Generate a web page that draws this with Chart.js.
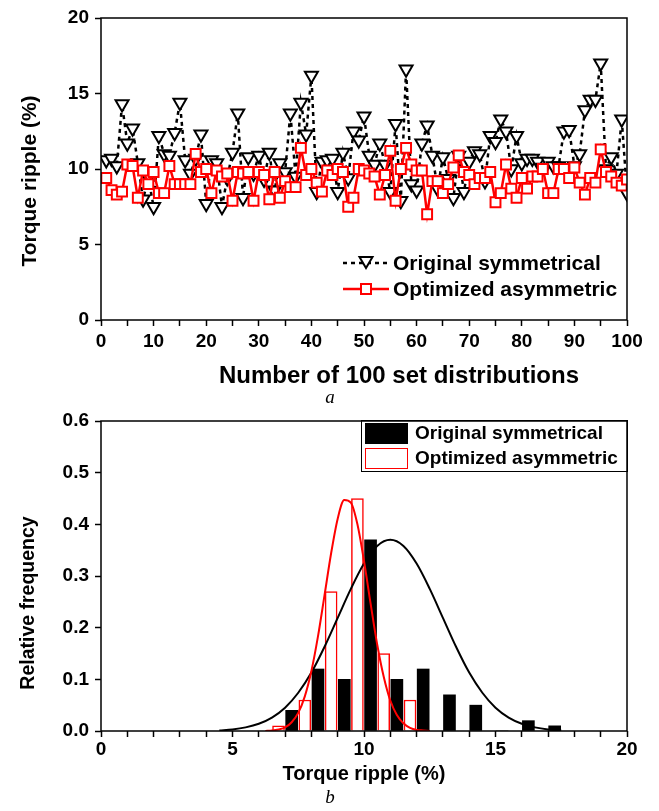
<!DOCTYPE html>
<html>
<head>
<meta charset="utf-8">
<title>Torque ripple</title>
<script src="https://cdn.jsdelivr.net/npm/chart.js@4.4.1/dist/chart.umd.min.js"></script>
<style>
    body { margin: 0; background: #fff; }
    #page { position: relative; width: 659px; height: 811px; overflow: hidden; font-family: 'Liberation Sans', Arial, sans-serif; }
    canvas { position: absolute; left: 0; }
    #c1 { top: 0; }
    #c2 { top: 400px; }
    .cap { position: absolute; width: 40px; text-align: center; font-family: 'Liberation Serif', 'Times New Roman', serif; font-style: italic; font-size: 19px; line-height: 20px; }
    .lg { position: absolute; font-weight: bold; white-space: nowrap; color: #000; }
    .ttl { position: absolute; font-weight: bold; white-space: nowrap; color: #000; line-height: 1; transform: translate(-50%, -50%); }
    .ttl.v { transform: translate(-50%, -50%) rotate(-90deg); }
    .sym { position: absolute; }
    .box { position: absolute; box-sizing: border-box; }
</style>
</head>
<body>
<div id="page">
    <canvas id="c1" width="659" height="400"></canvas>
    <canvas id="c2" width="659" height="411"></canvas>

    <!-- axis titles -->
    <div class="ttl v" style="left:28px;top:181px;font-size:21px">Torque ripple (%)</div>
    <div class="ttl" style="left:399px;top:375px;font-size:24px">Number of 100 set distributions</div>
    <div class="ttl v" style="left:28px;top:603px;font-size:19.5px">Relative frequency</div>
    <div class="ttl" style="left:364px;top:773px;font-size:20px">Torque ripple (%)</div>

    <!-- legend, chart a -->
    <svg class="sym" style="left:343px;top:253px" width="46" height="20">
        <line x1="0" y1="10" x2="46" y2="10" stroke="#000" stroke-width="2.5" stroke-dasharray="4 4"/>
        <polygon points="16.5,4 29.5,4 23,15" fill="#fff" stroke="#000" stroke-width="2"/>
    </svg>
    <div class="lg" style="left:393px;top:251px;font-size:21px;line-height:24px">Original symmetrical</div>
    <svg class="sym" style="left:343px;top:279px" width="46" height="20">
        <line x1="0" y1="10" x2="46" y2="10" stroke="#f00" stroke-width="2.5"/>
        <rect x="18" y="5" width="10" height="10" fill="#fff" stroke="#f00" stroke-width="2"/>
    </svg>
    <div class="lg" style="left:393px;top:277px;font-size:21px;line-height:24px">Optimized asymmetric</div>
    <div class="cap" style="left:310px;top:387px">a</div>

    <!-- legend, chart b -->
    <div class="box" style="left:361px;top:420px;width:267px;height:52px;border:1.5px solid #000"></div>
    <div class="box" style="left:365px;top:423px;width:43px;height:21px;background:#000"></div>
    <div class="box" style="left:365px;top:448px;width:43px;height:21px;border:1.5px solid #f00;background:#fff"></div>
    <div class="lg" style="left:415px;top:422px;font-size:19px;line-height:22px">Original symmetrical</div>
    <div class="lg" style="left:415px;top:447px;font-size:19px;line-height:22px">Optimized asymmetric</div>
    <div class="cap" style="left:310px;top:787px">b</div>
</div>

<script>
const FONT = "'Liberation Sans', Arial, sans-serif";

// (a) torque ripple of each of the 100 set distributions
const setNo = Array.from({ length: 100 }, (_, i) => i + 1);
const originalRipple = [
    10.6, 10.7, 10.2, 14.3, 11.7, 12.7, 10.4, 8.0, 9.4, 7.5,
    12.2, 11.0, 10.9, 12.4, 14.4, 10.6, 9.7, 10.7, 12.3, 7.7,
    10.6, 10.4, 7.5, 9.4, 11.1, 13.7, 8.1, 10.8, 9.7, 10.9,
    9.3, 11.1, 8.6, 10.4, 9.8, 13.7, 9.5, 14.4, 12.3, 16.2,
    8.5, 10.5, 10.6, 10.7, 8.5, 11.1, 9.4, 12.5, 11.9, 13.5,
    10.9, 10.3, 11.7, 10.3, 8.5, 13.0, 7.9, 16.6, 9.0, 8.6,
    11.7, 12.9, 10.9, 8.7, 10.8, 9.35, 8.1, 10.9, 8.5, 10.5,
    11.2, 11.0, 9.2, 12.2, 11.8, 13.3, 12.5, 10.0, 12.2, 10.4,
    10.7, 10.7, 10.5, 10.1, 10.5, 10.2, 10.2, 12.5, 12.6, 10.2,
    11.0, 13.9, 14.6, 14.6, 17.0, 10.0, 10.8, 9.7, 13.3, 8.4
];
const optimizedRipple = [
    9.4, 8.6, 8.3, 8.5, 10.3, 10.2, 8.1, 9.9, 9.0, 9.8,
    8.4, 8.4, 10.2, 9.0, 9.0, 9.0, 9.0, 11.0, 9.8, 10.0,
    8.4, 9.9, 9.5, 9.7, 7.9, 9.8, 9.7, 9.8, 7.9, 9.8,
    9.6, 8.0, 9.8, 8.1, 9.2, 8.8, 8.8, 11.4, 9.6, 10.0,
    9.1, 8.5, 9.9, 9.6, 10.0, 9.8, 7.5, 8.1, 10.0, 9.9,
    9.7, 9.5, 8.3, 9.6, 11.2, 7.9, 10.0, 11.4, 10.3, 9.9,
    9.9, 7.0, 9.2, 9.2, 8.4, 9.0, 10.1, 10.9, 9.8, 9.6,
    9.0, 9.4, 9.4, 9.8, 7.8, 8.4, 10.3, 8.7, 8.1, 9.4,
    8.7, 9.5, 9.5, 10.0, 8.4, 8.4, 10.0, 10.0, 9.4, 10.1,
    9.1, 8.3, 9.4, 9.1, 11.3, 9.8, 9.5, 9.1, 8.9, 9.3
];

// (b) histograms (bin centres, relative frequency)
const originalBins = [7.25, 8.25, 9.25, 10.25, 11.25, 12.25, 13.25, 14.25, 15.25, 16.25, 17.25];
const originalFreq = [0.04, 0.12, 0.10, 0.37, 0.10, 0.12, 0.07, 0.05, 0.0, 0.02, 0.01];
const optimizedBins = [6.75, 7.75, 8.75, 9.75, 10.75, 11.75];
const optimizedFreq = [0.01, 0.06, 0.27, 0.45, 0.15, 0.06];

// (b) fitted distribution curves
const originalFitX = [4.5, 5, 5.5, 6, 6.5, 7, 7.5, 8, 8.5, 9, 9.5, 10, 10.5, 11, 11.5, 12, 12.5, 13, 13.5, 14, 14.5, 15, 15.5, 16, 16.5, 17, 17.5];
const originalFitY = [0.001, 0.003, 0.007, 0.014, 0.026, 0.045, 0.074, 0.113, 0.163, 0.219, 0.275, 0.324, 0.358, 0.370, 0.358, 0.324, 0.275, 0.219, 0.163, 0.113, 0.074, 0.045, 0.026, 0.014, 0.007, 0.003, 0.001];
const optimizedFitX = [6.25, 6.5, 6.75, 7, 7.25, 7.5, 7.75, 8, 8.25, 8.5, 8.75, 9, 9.25, 9.5, 9.75, 10, 10.25, 10.5, 10.75, 11, 11.25, 11.5, 11.75, 12, 12.25, 12.5];
const optimizedFitY = [0.000, 0.001, 0.003, 0.007, 0.017, 0.035, 0.067, 0.116, 0.183, 0.263, 0.344, 0.411, 0.447, 0.442, 0.400, 0.329, 0.247, 0.168, 0.105, 0.059, 0.031, 0.015, 0.006, 0.002, 0.001, 0.000];

const xy = (xs, ys) => xs.map((x, i) => ({ x, y: ys[i] }));

// closed frame round the plot area
const framePlugin = {
    id: 'frame',
    afterDraw(chart) {
        const { ctx, chartArea: a } = chart;
        ctx.save();
        ctx.strokeStyle = '#000';
        ctx.lineWidth = 1.5;
        ctx.strokeRect(a.left, a.top, a.right - a.left, a.bottom - a.top);
        ctx.restore();
    }
};

function axis(opts) {
    return {
        type: 'linear',
        min: opts.min,
        max: opts.max,
        offset: false,
        ticks: {
            stepSize: opts.step,
            autoSkip: false,
            maxRotation: 0,
            color: '#000',
            padding: opts.pad,
            font: { family: FONT, size: 19, weight: 'bold' },
            callback: opts.label
        },
        grid: { drawOnChartArea: false, drawTicks: true, tickLength: 6, tickColor: '#000', tickWidth: 1.5, offset: false },
        border: { display: false },
        afterFit: opts.fit
    };
}

const baseOptions = {
    responsive: false,
    animation: false,
    plugins: { legend: { display: false }, tooltip: { enabled: false } }
};

// 1. CHART (a)
new Chart(document.getElementById('c1'), {
    type: 'line',
    data: {
        datasets: [
            {
                label: 'Optimized asymmetric',
                data: xy(setNo, optimizedRipple),
                borderColor: '#f00',
                borderWidth: 2.5,
                pointStyle: 'rect',
                pointRadius: 7,
                pointBorderWidth: 2,
                pointBorderColor: '#f00',
                pointBackgroundColor: '#fff'
            },
            {
                label: 'Original symmetrical',
                data: xy(setNo, originalRipple),
                borderColor: '#000',
                borderWidth: 2.5,
                borderDash: [4, 4],
                pointStyle: 'triangle',
                rotation: 180,
                pointRadius: 7.5,
                pointBorderWidth: 2,
                pointBorderColor: '#000',
                pointBackgroundColor: '#fff'
            }
        ]
    },
    options: {
        ...baseOptions,
        layout: { padding: { top: 18, right: 32, left: 0, bottom: 0 } },
        scales: {
            x: axis({
                min: 0, max: 100, step: 5, pad: 4,
                label: v => (v % 10 === 0 ? v : ''),
                fit: s => { s.height = 80; }
            }),
            y: axis({
                min: 0, max: 20, step: 5, pad: 6,
                label: v => v,
                fit: s => { s.width = 101; }
            })
        }
    },
    plugins: [framePlugin]
});

// 2. CHART (b)
new Chart(document.getElementById('c2'), {
    type: 'bar',
    data: {
        datasets: [
            {
                type: 'line',
                label: 'Optimized fit',
                data: xy(optimizedFitX, optimizedFitY),
                borderColor: '#f00',
                borderWidth: 2,
                pointRadius: 0,
                cubicInterpolationMode: 'monotone',
                order: 0
            },
            {
                type: 'line',
                label: 'Original fit',
                data: xy(originalFitX, originalFitY),
                borderColor: '#000',
                borderWidth: 2,
                pointRadius: 0,
                cubicInterpolationMode: 'monotone',
                order: 0
            },
            {
                label: 'Optimized asymmetric',
                data: xy(optimizedBins, optimizedFreq),
                backgroundColor: '#fff',
                borderColor: '#f00',
                borderWidth: 1.5,
                barThickness: 12,
                grouped: false,
                order: 1
            },
            {
                label: 'Original symmetrical',
                data: xy(originalBins, originalFreq),
                backgroundColor: '#000',
                borderWidth: 0,
                barThickness: 12,
                grouped: false,
                order: 1
            }
        ]
    },
    options: {
        ...baseOptions,
        layout: { padding: { top: 21, right: 32, left: 0, bottom: 0 } },
        scales: {
            x: axis({
                min: 0, max: 20, step: 1, pad: 1,
                label: v => (v % 5 === 0 ? v : ''),
                fit: s => { s.height = 80; }
            }),
            y: axis({
                min: 0, max: 0.6, step: 0.1, pad: 6,
                label: v => v.toFixed(1),
                fit: s => { s.width = 101; }
            })
        }
    },
    plugins: [framePlugin]
});
</script>
</body>
</html>
